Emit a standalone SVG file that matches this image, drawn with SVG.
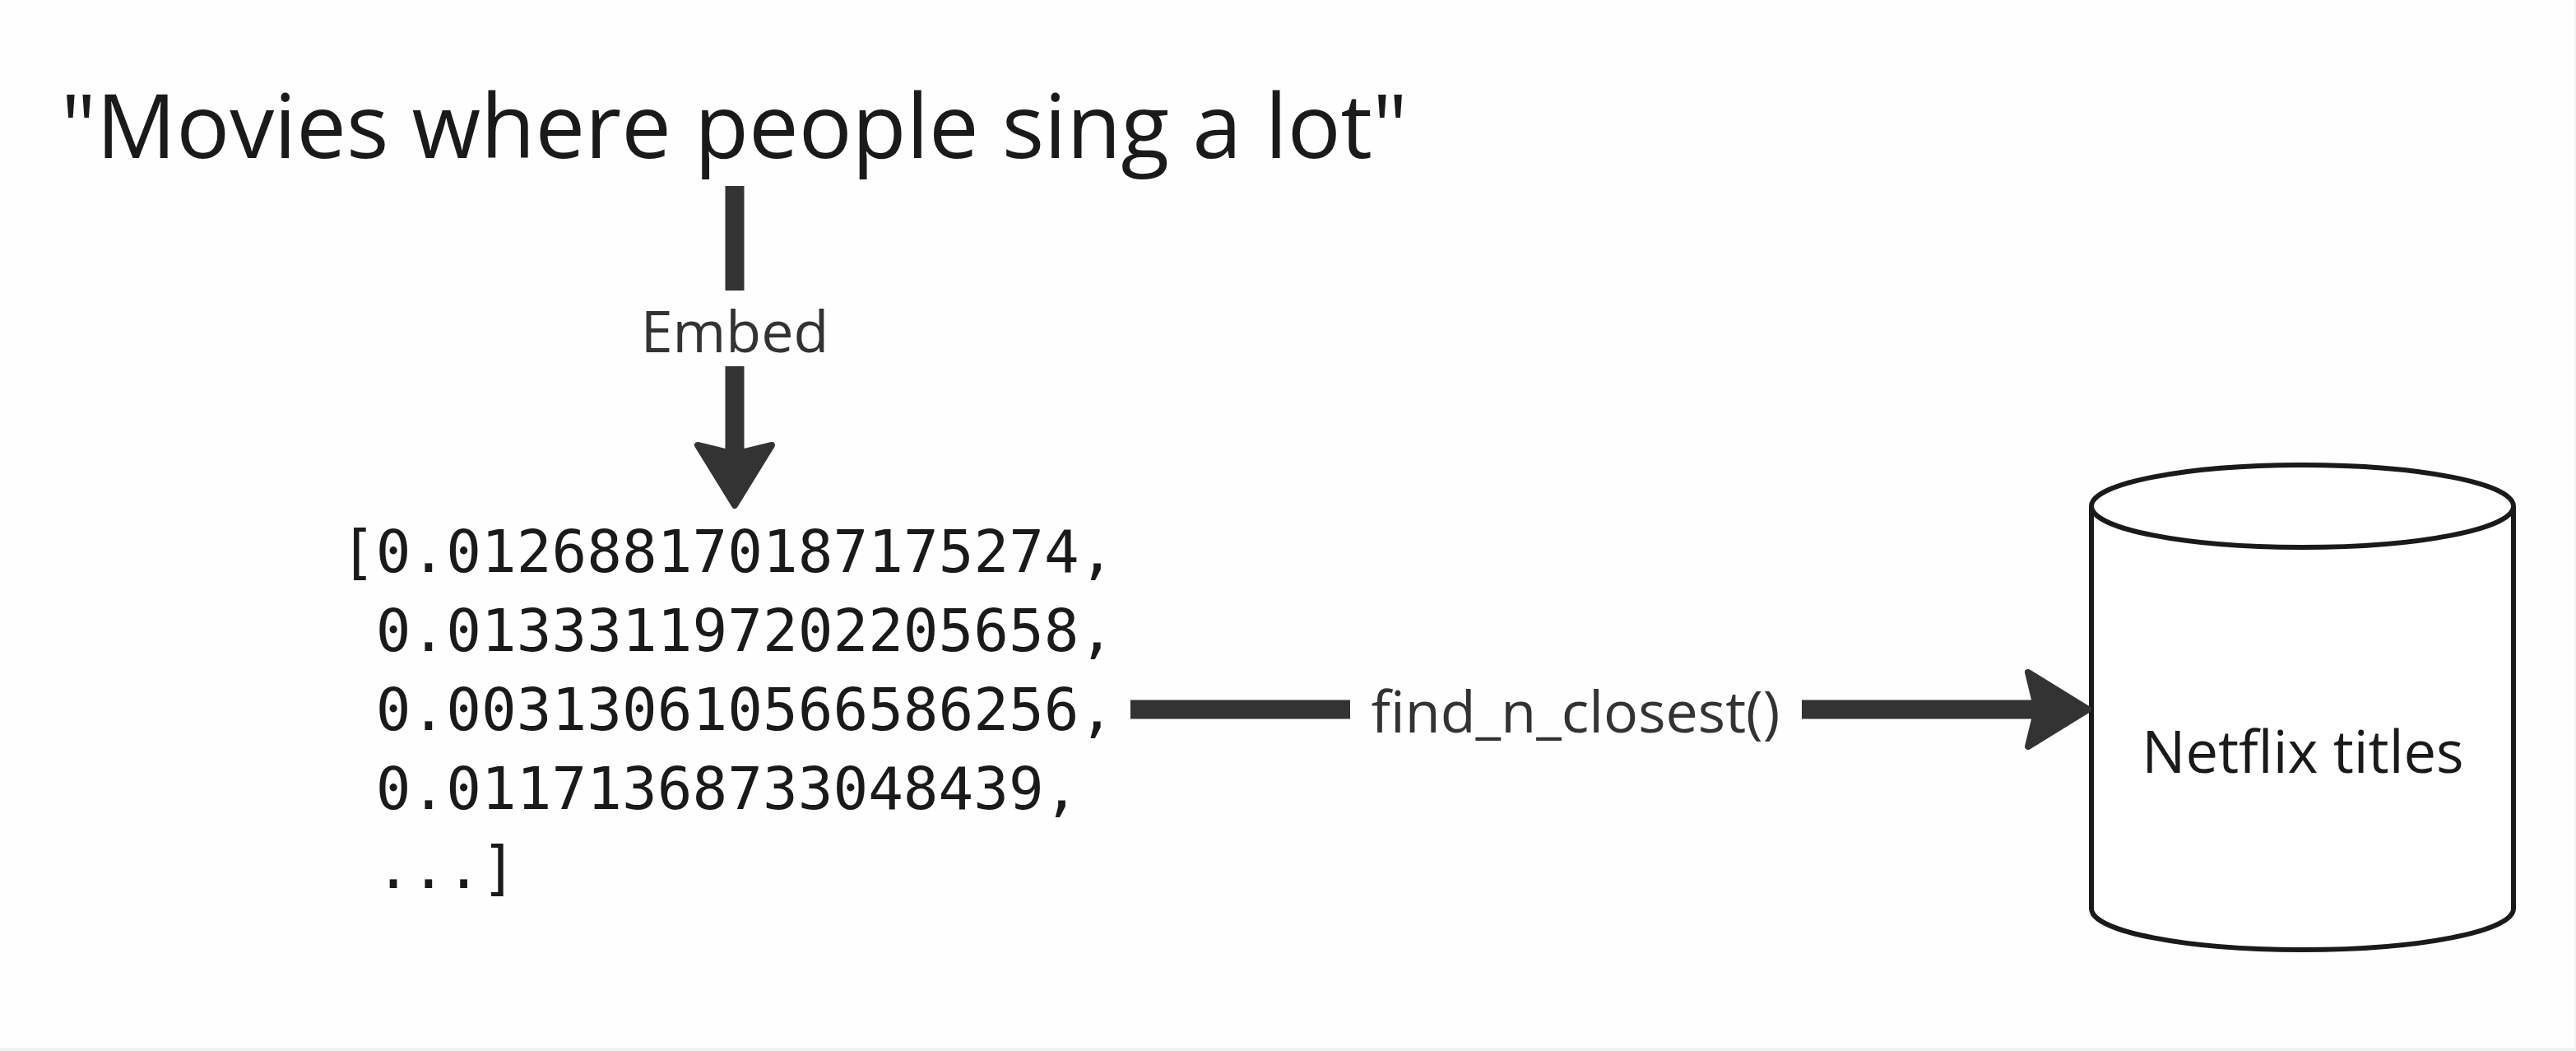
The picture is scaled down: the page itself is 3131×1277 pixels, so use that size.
<svg xmlns="http://www.w3.org/2000/svg" width="3131" height="1277" viewBox="0 0 3131 1277">
  <style>
    .sans { font-family: "Open Sans", "Noto Sans", "DejaVu Sans", sans-serif; }
    .title { font-size: 108px; fill: #1a1a1a; }
    .label { font-size: 70px; fill: #333333; }
    .node-text { font-size: 70.5px; fill: #1a1a1a; }
    .code { font-family: "DejaVu Sans Mono", "Liberation Mono", monospace; font-size: 71px; fill: #1a1a1a; }
    .conn { stroke: #333333; stroke-width: 23; fill: none; }
    .db { fill: #ffffff; stroke: #1a1a1a; stroke-width: 6; }
  </style>
  <defs>
    <marker id="arrow" markerUnits="userSpaceOnUse" viewBox="-6 -56 96 112" markerWidth="96" markerHeight="112" refX="21" refY="0" orient="auto">
      <path d="M4,-45 L77,0 L4,45 L15,0 Z" fill="#333333" stroke="#333333" stroke-width="8" stroke-linejoin="round"/>
    </marker>
  </defs>
  <rect x="0" y="0" width="3131" height="1277" fill="#fefefe"/>
  <rect x="0" y="1273" width="3131" height="4" fill="#f2f2f2"/>
  <rect x="3129" y="0" width="2" height="1277" fill="#f2f2f2"/>

  <g id="query">
    <text class="sans title" x="74" y="192">"Movies where people sing a lot"</text>
  </g>

  <g id="vector">
    <text class="code" x="414" y="695">[0.012688170187175274,</text>
    <text class="code" x="456.7" y="791">0.013331197202205658,</text>
    <text class="code" x="456.7" y="887">0.003130610566586256,</text>
    <text class="code" x="456.7" y="983">0.01171368733048439,</text>
    <text class="code" x="456.7" y="1079">...]</text>
  </g>

  <g id="netflix-titles">
    <path class="db" d="M2542,615 L2542,1104 A256.5,50 0 0 0 3055,1104 L3055,615"/>
    <ellipse class="db" cx="2798.5" cy="615" rx="256.5" ry="50"/>
    <text class="sans node-text" x="2799" y="939" text-anchor="middle">Netflix titles</text>
  </g>

  <g id="connectors">
    <g id="embed-edge">
      <line class="conn" x1="893" y1="226" x2="893" y2="353"/>
      <line class="conn" x1="893" y1="445" x2="893" y2="558" marker-end="url(#arrow)"/>
      <text class="sans label" x="893" y="428" text-anchor="middle">Embed</text>
    </g>
    <g id="find-edge">
      <line class="conn" x1="1374" y1="862" x2="1641" y2="862"/>
      <line class="conn" x1="2190" y1="862" x2="2482" y2="862" marker-end="url(#arrow)"/>
      <text class="sans label" x="1915" y="890" text-anchor="middle">find_n_closest()</text>
    </g>
  </g>
</svg>
